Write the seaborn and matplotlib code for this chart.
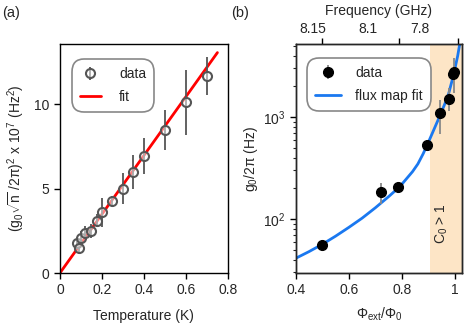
import numpy as np
import pandas as pd
import matplotlib
matplotlib.use('Agg')
import matplotlib.pyplot as plt
import seaborn as sns

# panel (a): thermal calibration
temp_K = [0.08, 0.09, 0.10, 0.12, 0.15, 0.175, 0.20, 0.25, 0.30, 0.35, 0.40, 0.50, 0.60, 0.70]
g2n = [1.8, 1.5, 2.1, 2.4, 2.5, 3.1, 3.6, 4.26, 5.0, 5.97, 6.92, 8.46, 10.1, 11.66]
g2n_err = [0.3, 0.3, 0.4, 0.4, 0.4, 0.4, 0.85, 0.3, 0.9, 1.0, 1.05, 1.2, 1.9, 1.1]
fit_T = [0.0, 0.75]
fit_g2n = [0.0, 13.05]

# panel (b): coupling vs flux
phi = [0.50, 0.72, 0.785, 0.894, 0.943, 0.977, 0.991, 0.998]
g0 = [56, 184, 206, 531, 1094, 1500, 2620, 2780]
g0_lo = [56, 140, 206, 531, 680, 1150, 2620, 1740]
g0_hi = [56, 225, 206, 531, 1468, 1950, 2620, 3780]
curve_phi = [0.40, 0.45, 0.50, 0.55, 0.60, 0.65, 0.70, 0.75, 0.78, 0.80, 0.84, 0.86,
             0.88, 0.90, 0.92, 0.94, 0.96, 0.975, 0.99, 1.0, 1.01, 1.018]
curve_g0 = [41.2, 47.9, 56.5, 67.9, 82.8, 102, 129, 166, 195, 220, 292, 347,
            437, 569, 750, 989, 1318, 1660, 2344, 3020, 3981, 5248]
freq_labels = ['8.15', '8.1', '7.8']
freq_label_pos = [0.464, 0.672, 0.868]
freq_tick_pos = [0.498, 0.789, 1.011]

sns.set_style("ticks")
plt.rcParams['font.family'] = ['Liberation Sans', 'DejaVu Sans']
plt.rcParams['mathtext.fontset'] = 'custom'
plt.rcParams['mathtext.rm'] = 'Liberation Sans'
plt.rcParams['mathtext.it'] = 'Liberation Sans'
plt.rcParams['mathtext.default'] = 'regular'
plt.rcParams['font.size'] = 10
plt.rcParams['axes.linewidth'] = 1.0

fig = plt.figure(figsize=(4.68, 3.27), dpi=100)
ax1 = fig.add_axes([0.128, 0.165, 0.359, 0.70])
ax2 = fig.add_axes([0.632, 0.165, 0.355, 0.70])

for ax in (ax1, ax2):
    for s in ax.spines.values():
        s.set_color('black')
    ax.tick_params(labelsize=10, color='black', width=1.0, length=4)

# (a)
fit_df = pd.DataFrame({'T': fit_T, 'y': fit_g2n})
sns.lineplot(data=fit_df, x='T', y='y', ax=ax1, color='#ff0000', lw=2, label='fit', zorder=2)
ax1.errorbar(temp_K, g2n, yerr=g2n_err, fmt='o', ms=6.5, mfc=(1, 1, 1, 0.5),
             mec='#555555', mew=1.5, ecolor='#555555', elinewidth=1.3, capsize=0,
             zorder=3, label='data')
ax1.set_xlim(0, 0.8)
ax1.set_ylim(0, 13.55)
ax1.set_xticks([0, 0.2, 0.4, 0.6, 0.8])
ax1.set_xticklabels(['0', '0.2', '0.4', '0.6', '0.8'])
ax1.set_yticks([0, 5, 10])
ax1.set_xlabel('Temperature (K)', fontsize=10, labelpad=8)
ax1.set_ylabel(r'$(g_0\sqrt{n}\ /2\pi)^2$ x 10$^7$ (Hz$^2$)', fontsize=10, labelpad=5)
h, l = ax1.get_legend_handles_labels()
order = [l.index('data'), l.index('fit')]
leg1 = ax1.legend([h[i] for i in order], [l[i] for i in order], loc='upper left',
                  bbox_to_anchor=(0.07, 0.935), fontsize=10, frameon=True,
                  handlelength=1.5, handletextpad=1.3, labelspacing=0.6,
                  borderpad=0.6, borderaxespad=0)
fr = leg1.get_frame()
fr.set_boxstyle('round,pad=0,rounding_size=0.9')
fr.set_edgecolor('#888888')
fr.set_linewidth(1.2)
fr.set_alpha(1)
fig.text(0.004, 0.96, '(a)', fontsize=10.5, va='center')

# (b)
ax2.axvspan(0.906, 1.03, color='#fde5c6', lw=0, zorder=0)
curve_df = pd.DataFrame({'phi': curve_phi, 'g0': curve_g0})
sns.lineplot(data=curve_df, x='phi', y='g0', ax=ax2, color='#1a78f0', lw=2,
             label='flux map fit', zorder=2)
g0_arr = np.array(g0)
yerr = [g0_arr - np.array(g0_lo), np.array(g0_hi) - g0_arr]
ax2.errorbar(phi, g0, yerr=yerr, fmt='o', ms=7, mfc='black', mec='black',
             ecolor='#888888', elinewidth=1.3, capsize=0, zorder=3, label='data')
ax2.set_yscale('log')
ax2.set_xlim(0.4, 1.026)
ax2.set_ylim(29.5, 5200)
ax2.set_xticks([0.4, 0.6, 0.8, 1.0])
ax2.set_xticklabels(['0.4', '0.6', '0.8', '1'])
ax2.set_xlabel(r'$\Phi_{ext}/\Phi_0$', fontsize=10, labelpad=6)
ax2.set_ylabel(r'$g_0/2\pi$ (Hz)', fontsize=10, labelpad=2)
ax2.tick_params(axis='y', which='minor', length=2.5, width=0.8)
ax2.text(0.952, 90, r'C$_0$ > 1', rotation=90, fontsize=10, ha='center', va='center')
h, l = ax2.get_legend_handles_labels()
order = [l.index('data'), l.index('flux map fit')]
leg2 = ax2.legend([h[i] for i in order], [l[i] for i in order], loc='upper left',
                  bbox_to_anchor=(0.065, 0.94), fontsize=10, frameon=True,
                  handlelength=1.9, handletextpad=1.0, labelspacing=0.6,
                  borderpad=0.6, borderaxespad=0)
fr = leg2.get_frame()
fr.set_boxstyle('round,pad=0,rounding_size=0.9')
fr.set_edgecolor('#888888')
fr.set_linewidth(1.2)
fr.set_alpha(1)

top = ax2.twiny()
top.set_xlim(ax2.get_xlim())
top.set_xticks(freq_label_pos)
top.set_xticklabels(freq_labels, fontsize=10)
top.tick_params(axis='x', which='major', length=0, pad=6)
top.set_xticks(freq_tick_pos, minor=True)
top.tick_params(axis='x', which='minor', length=4, width=1.0, color='black')
top.set_xlabel('Frequency (GHz)', fontsize=10, labelpad=5)
fig.text(0.494, 0.96, '(b)', fontsize=10.5, va='center')

fig.savefig('out.png', dpi=100)
